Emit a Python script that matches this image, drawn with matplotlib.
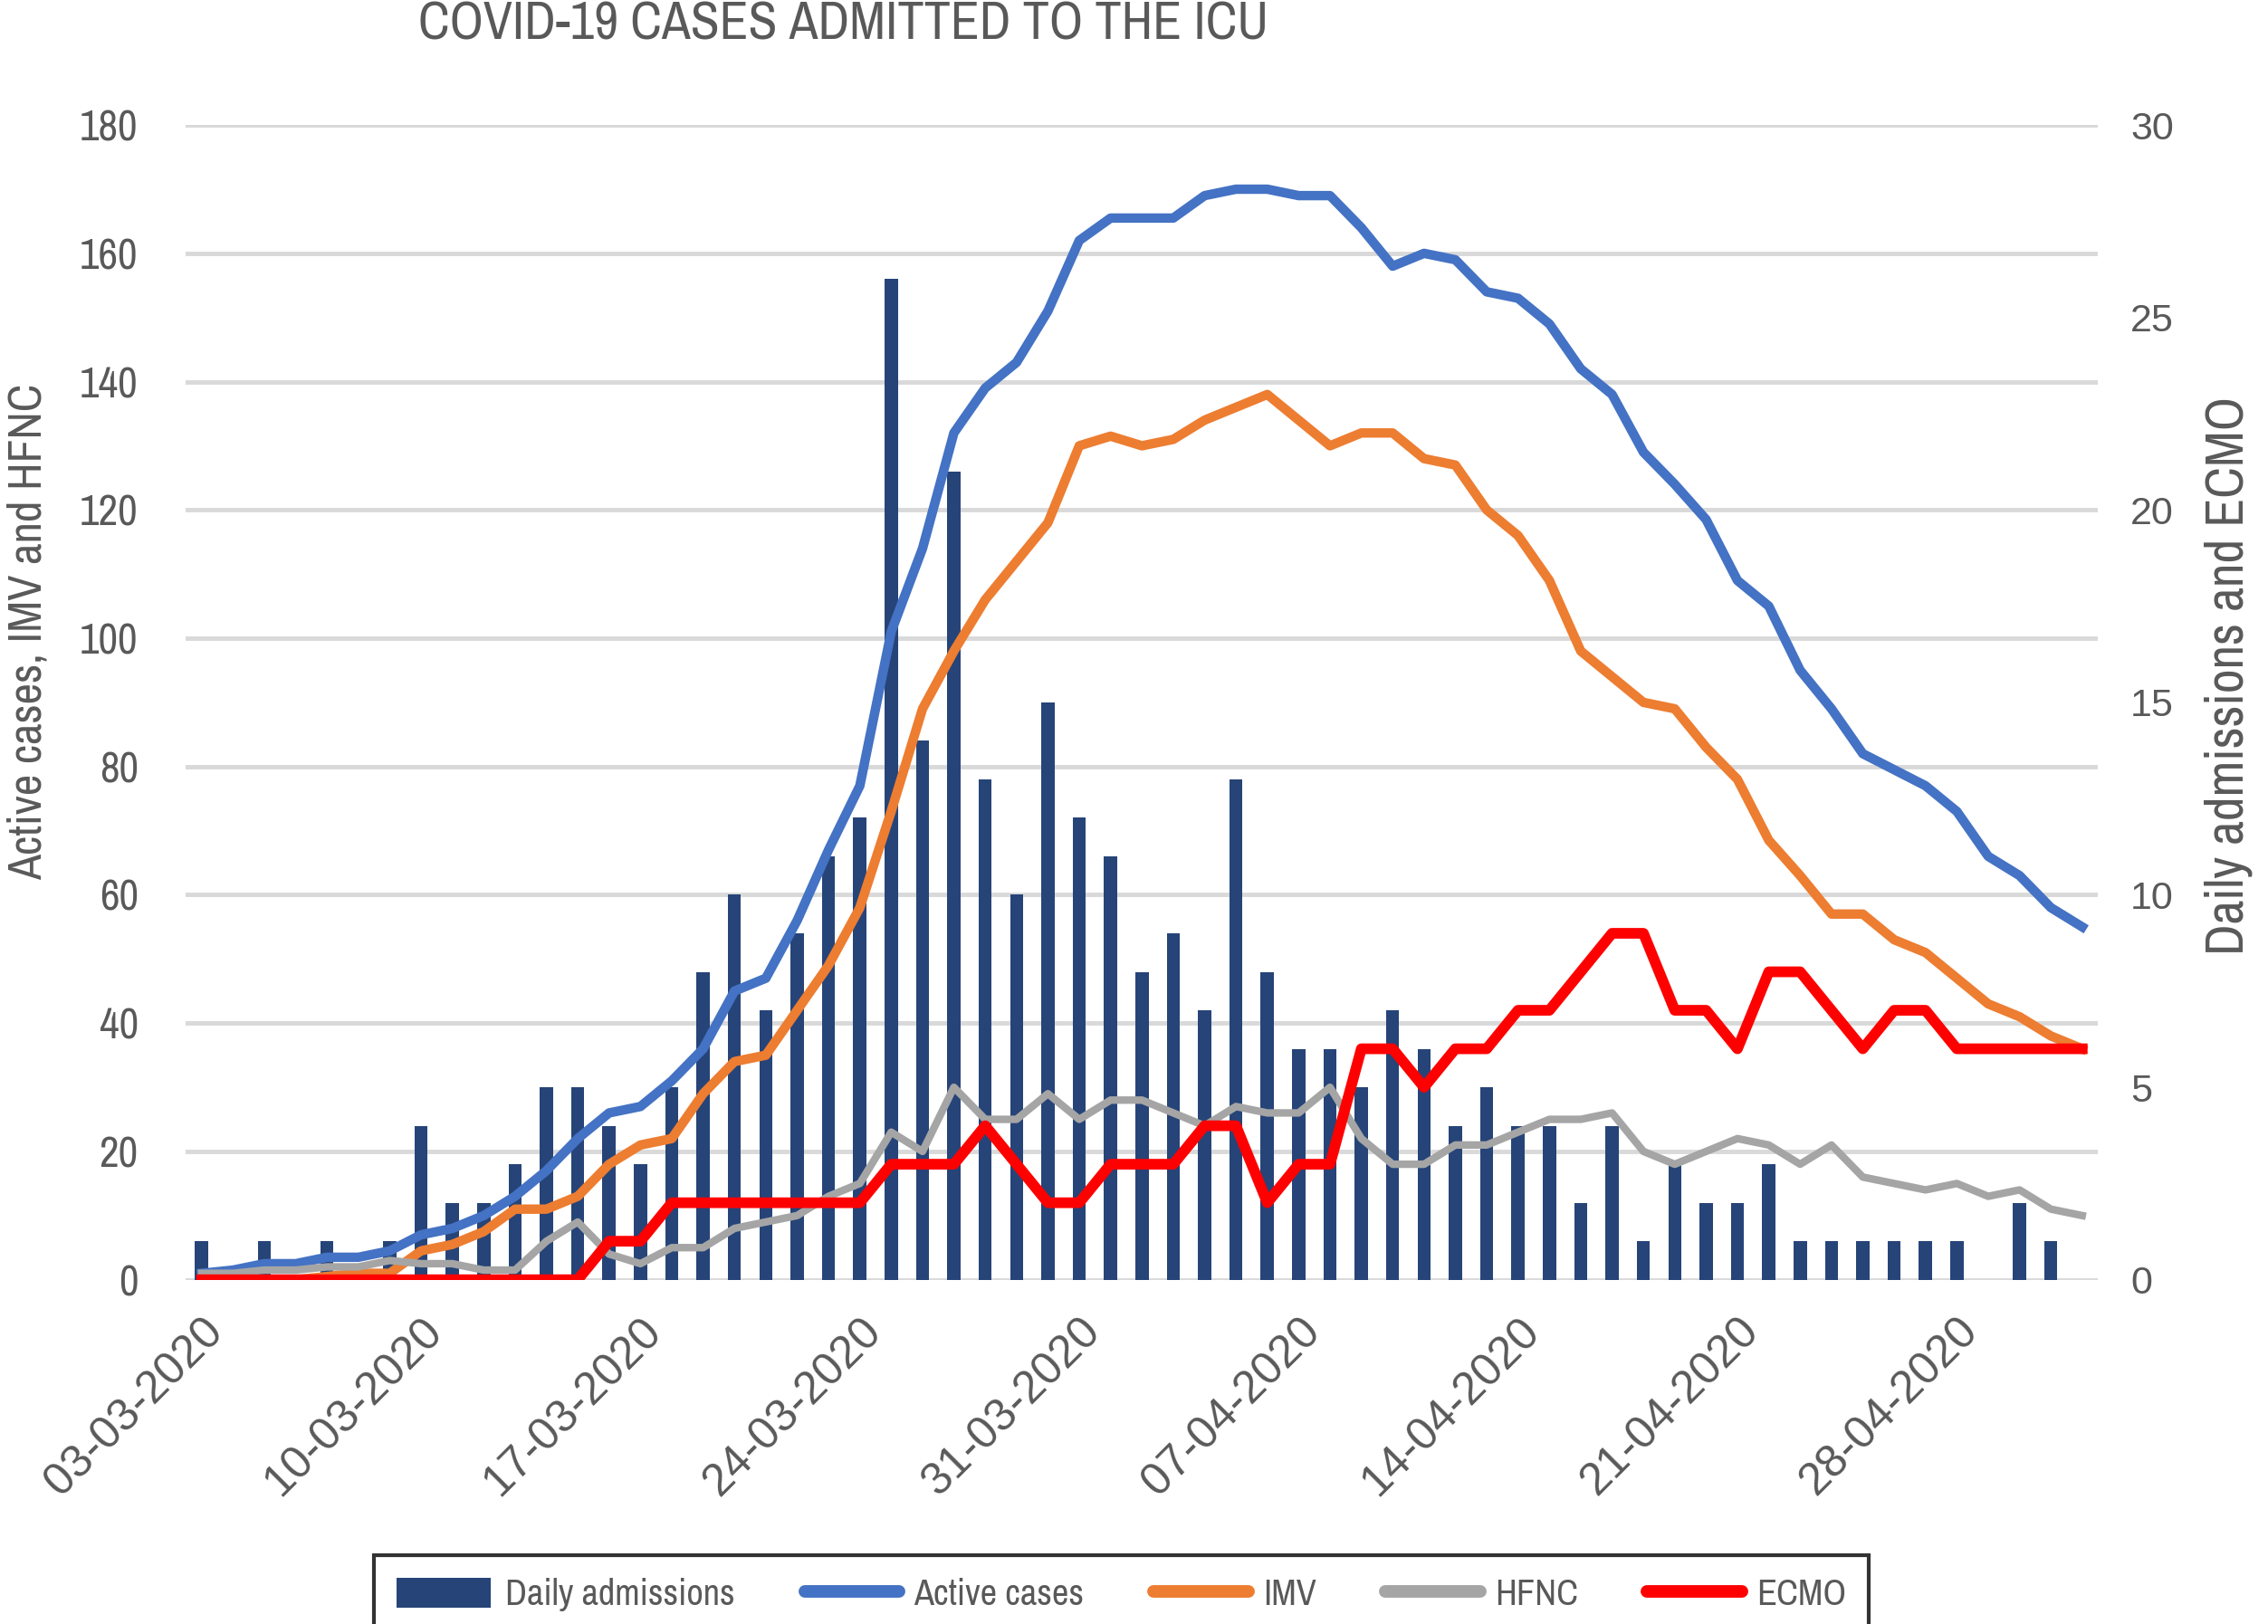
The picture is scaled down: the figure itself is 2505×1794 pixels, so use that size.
import matplotlib
matplotlib.use("Agg")
import matplotlib.pyplot as plt
import pandas as pd
from matplotlib.patches import Patch
from matplotlib.lines import Line2D

# daily data, 03-03-2020 .. 02-05-2020
dates = pd.date_range("2020-03-03", "2020-05-02", freq="D")
date_labels = [d.strftime("%d-%m-%Y") for d in dates]

daily_admissions = [1, 0, 1, 0, 1, 0, 1, 4, 2, 2, 3, 5, 5, 4, 3, 5, 8, 10, 7, 9,
                    11, 12, 26, 14, 21, 13, 10, 15, 12, 11, 8, 9, 7, 13, 8, 6, 6, 5, 7, 6,
                    4, 5, 4, 4, 2, 4, 1, 3, 2, 2, 3, 1, 1, 1, 1, 1, 1, 0, 2, 1, 0]
active_cases = [1, 1.5, 2.5, 2.5, 3.5, 3.5, 4.5, 7, 8, 10, 13, 17, 22, 26, 27, 31, 36, 45, 47, 56,
                67, 77, 101, 114, 132, 139, 143, 151, 162, 165.5, 165.5, 165.5, 169, 170, 170, 169, 169, 164, 158, 160,
                159, 154, 153, 149, 142, 138, 129, 124, 118.5, 109, 105, 95, 89, 82, 79.5, 77, 73, 66, 63, 58, 55]
imv = [0, 0, 0, 0, 0.5, 1, 1, 4.5, 5.5, 7.5, 11, 11, 13, 18, 21, 22, 29, 34, 35, 42,
       49, 58, 73, 89, 98, 106, 112, 118, 130, 131.5, 130, 131, 134, 136, 138, 134, 130, 132, 132, 128,
       127, 120, 116, 109, 98, 94, 90, 89, 83, 78, 68.5, 63, 57, 57, 53, 51, 47, 43, 41, 38, 36]
hfnc = [1, 1, 1.5, 1.5, 2, 2, 3, 2.5, 2.5, 1.5, 1.5, 6, 9, 4, 2.5, 5, 5, 8, 9, 10,
        13, 15, 23, 20, 30, 25, 25, 29, 25, 28, 28, 26, 24, 27, 26, 26, 30, 22, 18, 18,
        21, 21, 23, 25, 25, 26, 20, 18, 20, 22, 21, 18, 21, 16, 15, 14, 15, 13, 14, 11, 10]
ecmo = [0, 0, 0, 0, 0, 0, 0, 0, 0, 0, 0, 0, 0, 1, 1, 2, 2, 2, 2, 2,
        2, 2, 3, 3, 3, 4, 3, 2, 2, 3, 3, 3, 4, 4, 2, 3, 3, 6, 6, 5,
        6, 6, 7, 7, 8, 9, 9, 7, 7, 6, 8, 8, 7, 6, 7, 7, 6, 6, 6, 6, 6]

left_ticks = list(range(0, 181, 20))
right_ticks = list(range(0, 31, 5))

TXT = "#595959"
NARROW = ["Arial Narrow", "Archivo Narrow", "PT Sans Narrow", "Roboto Condensed", "Liberation Sans"]
WIDE = ["Liberation Sans", "DejaVu Sans"]

x = list(range(len(dates)))

fig = plt.figure(figsize=(25.05, 17.94), dpi=100)
ax = fig.add_axes([0.082, 0.212, 0.843, 0.711])

# base axis: left scale + grid
ax.set_xlim(-0.5, len(x) - 0.5)
ax.set_ylim(0, 180)
ax.set_yticks(left_ticks)
ax.set_yticklabels([str(v) for v in left_ticks], family=NARROW, fontsize=34, color=TXT)
ax.grid(axis="y", color="#d9d9d9", linewidth=3.5)
ax.set_axisbelow(True)
ax.tick_params(axis="both", length=0)
ax.tick_params(axis="y", pad=38)
ax.set_xticks(x[::7])
ax.set_xticklabels(date_labels[::7], rotation=45, ha="right", va="top",
                   rotation_mode="anchor", family=WIDE, fontsize=36, color=TXT)
ax.tick_params(axis="x", pad=24)
for s in ax.spines.values():
    s.set_visible(False)
ax.set_ylabel("Active cases, IMV and HFNC", family=NARROW, fontsize=37, color=TXT, labelpad=24)
ax.yaxis.label.set_y(0.561)

# bars on right scale
axb = ax.twinx()
axb.bar(x, daily_admissions, width=0.42, color="#264478", zorder=2)
axb.set_ylim(0, 30)
axb.set_yticks(right_ticks)
axb.set_yticklabels([str(v) for v in right_ticks], family=WIDE, fontsize=31, color=TXT)
axb.tick_params(axis="y", length=0, pad=26)
axb.set_ylabel("Daily admissions and ECMO", family=NARROW, fontsize=42, color=TXT,
               rotation=90, labelpad=24)
axb.yaxis.label.set_y(0.523)

# lines on left scale
axl = ax.twinx()
axl.set_ylim(0, 180)
axl.plot(x, active_cases, color="#4472c4", linewidth=7.5, solid_joinstyle="round")
axl.plot(x, imv, color="#ed7d31", linewidth=7.5, solid_joinstyle="round")
axl.plot(x, hfnc, color="#a5a5a5", linewidth=6, solid_joinstyle="round")
axl.set_yticks([])

# ECMO on right scale, on top
axe = ax.twinx()
axe.set_ylim(0, 30)
axe.plot(x, ecmo, color="#ff0000", linewidth=8.5, solid_joinstyle="round")
axe.set_yticks([])

for a in (axb, axl, axe):
    for s in a.spines.values():
        s.set_visible(False)

fig.text(0.372, 0.985, "COVID-19 CASES ADMITTED TO THE ICU", family=NARROW,
         fontsize=42, color=TXT, ha="center", va="center")

handles = [
    Patch(facecolor="#264478", label="Daily admissions"),
    Line2D([], [], color="#4472c4", linewidth=10, solid_capstyle="round", label="Active cases"),
    Line2D([], [], color="#ed7d31", linewidth=10, solid_capstyle="round", label="IMV"),
    Line2D([], [], color="#a5a5a5", linewidth=10, solid_capstyle="round", label="HFNC"),
    Line2D([], [], color="#ff0000", linewidth=10, solid_capstyle="round", label="ECMO"),
]
leg = fig.legend(handles=handles, loc="lower left", bbox_to_anchor=(0.157, -0.017),
                 ncol=5, frameon=True, fancybox=False, handlelength=2.6, handleheight=0.9,
                 columnspacing=1.9, handletextpad=0.4, borderpad=0.6,
                 prop={"family": NARROW, "size": 29})
leg.get_frame().set_edgecolor("black")
leg.get_frame().set_linewidth(3)
for t in leg.get_texts():
    t.set_color(TXT)

fig.savefig("out.png", dpi=100)
